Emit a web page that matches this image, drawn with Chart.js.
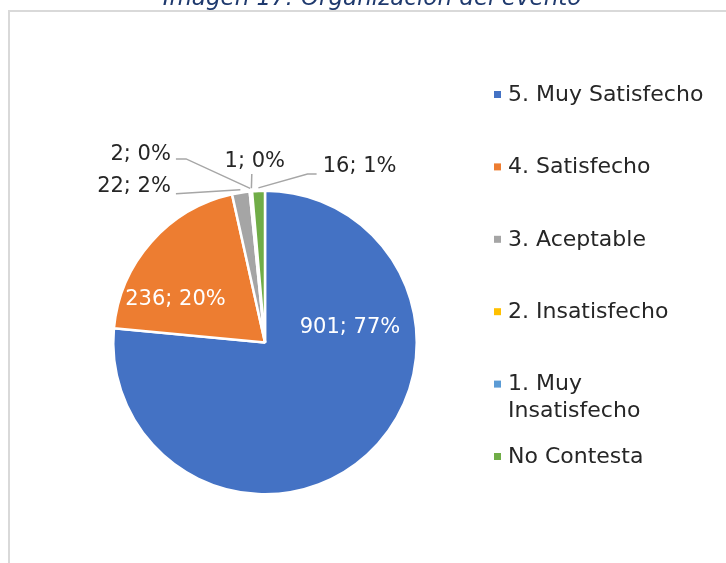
<!DOCTYPE html>
<html>
<head>
<meta charset="utf-8">
<script src="https://cdn.jsdelivr.net/npm/chart.js@4.4.0/dist/chart.umd.min.js"></script>
<style>
  html, body { margin: 0; padding: 0; background: #fff; overflow: hidden; }
  #wrap { position: relative; width: 726px; height: 563px; }
  canvas { position: absolute; left: 0; top: 0; }
</style>
</head>
<body>
<div id="wrap"><canvas id="myChart" width="726" height="563"></canvas></div>
<script>
  var titulo = 'Imagen 17: Organización del evento';
  var categorias = ['5. Muy Satisfecho', '4. Satisfecho', '3. Aceptable', '2. Insatisfecho', '1. Muy Insatisfecho', 'No Contesta'];
  var respuestas = [901, 236, 22, 2, 1, 16];
  var porcentajes = ['77%', '20%', '2%', '0%', '0%', '1%'];
  var colores = ['#4472C4', '#ED7D31', '#A5A5A5', '#FFC000', '#5B9BD5', '#70AD47'];

  var fuente = '"DejaVu Sans", sans-serif';

  // posicion de cada etiqueta, en radios desde el centro del pastel
  // dentro: true = texto blanco sobre la porcion; guia = codo de la linea
  var posEtiquetas = [
    { dx: 0.56, dy: -0.10, align: 'center', dentro: true },
    { dx: -0.59, dy: -0.28, align: 'center', dentro: true },
    { dx: -0.62, dy: -1.027, align: 'right', guia: [[-0.587, -0.98]] },
    { dx: -0.62, dy: -1.24, align: 'right', guia: [[-0.587, -1.21], [-0.52, -1.21]] },
    { dx: -0.067, dy: -1.193, align: 'center', guia: [[-0.087, -1.11]] },
    { dx: 0.38, dy: -1.16, align: 'left', guia: [[0.34, -1.11], [0.28, -1.11]] }
  ];

  var fondo = {
    id: 'fondo',
    beforeDraw: function (chart) {
      var ctx = chart.ctx;
      ctx.save();
      ctx.strokeStyle = '#D9D9D9';
      ctx.lineWidth = 2;
      ctx.strokeRect(9, 11, 800, 600);
      ctx.fillStyle = '#1F3A6E';
      ctx.font = 'italic 23px ' + fuente;
      ctx.textAlign = 'center';
      ctx.textBaseline = 'alphabetic';
      ctx.fillText(titulo, 372, 5);
      ctx.restore();
    }
  };

  var etiquetas = {
    id: 'etiquetas',
    afterDatasetsDraw: function (chart) {
      var ctx = chart.ctx;
      var arcs = chart.getDatasetMeta(0).data;
      ctx.save();
      ctx.font = '21px ' + fuente;
      ctx.textBaseline = 'middle';
      arcs.forEach(function (arc, i) {
        var p = posEtiquetas[i];
        var r = arc.outerRadius;
        var tx = arc.x + p.dx * r;
        var ty = arc.y + p.dy * r;
        var texto = respuestas[i] + '; ' + porcentajes[i];
        if (!p.dentro) {
          var mid = (arc.startAngle + arc.endAngle) / 2;
          var ex = arc.x + Math.cos(mid) * r * 1.02;
          var ey = arc.y + Math.sin(mid) * r * 1.02;
          ctx.strokeStyle = '#A6A6A6';
          ctx.lineWidth = 1.5;
          ctx.beginPath();
          p.guia.forEach(function (g, k) {
            var gx = arc.x + g[0] * r, gy = arc.y + g[1] * r;
            if (k === 0) ctx.moveTo(gx, gy); else ctx.lineTo(gx, gy);
          });
          ctx.lineTo(ex, ey);
          ctx.stroke();
        }
        ctx.fillStyle = p.dentro ? '#FFFFFF' : '#262626';
        ctx.textAlign = p.align;
        ctx.fillText(texto, tx, ty);
      });
      ctx.restore();
    }
  };

  // leyenda propia, para poder partir "1. Muy Insatisfecho" en dos lineas
  var leyenda = {
    id: 'leyenda',
    afterDraw: function (chart) {
      var ctx = chart.ctx;
      var x0 = 494, y0 = 95, paso = 72.4, anchoMax = 210;
      ctx.save();
      ctx.font = '22px ' + fuente;
      ctx.textBaseline = 'middle';
      ctx.textAlign = 'left';
      chart.data.labels.forEach(function (lab, i) {
        var y = y0 + i * paso;
        ctx.fillStyle = colores[i];
        ctx.fillRect(x0, y - 4, 7, 7);
        ctx.fillStyle = '#262626';
        var lineas = [lab];
        if (ctx.measureText(lab).width > anchoMax) {
          var partes = lab.split(' ');
          lineas = [partes.slice(0, 2).join(' '), partes.slice(2).join(' ')];
        }
        lineas.forEach(function (l, k) {
          ctx.fillText(l, x0 + 14, y + k * 27);
        });
      });
      ctx.restore();
    }
  };

  var ctx = document.getElementById('myChart').getContext('2d');
  var myChart = new Chart(ctx, {
    type: 'pie',
    data: {
      labels: categorias,
      datasets: [{
        data: respuestas,
        backgroundColor: colores,
        borderColor: '#FFFFFF',
        borderWidth: 2.5
      }]
    },
    options: {
      responsive: false,
      animation: false,
      layout: {
        padding: { left: 112, right: 308, top: 189, bottom: 67 }
      },
      plugins: {
        legend: { display: false },
        tooltip: { enabled: false }
      }
    },
    plugins: [fondo, etiquetas, leyenda]
  });
</script>
</body>
</html>
